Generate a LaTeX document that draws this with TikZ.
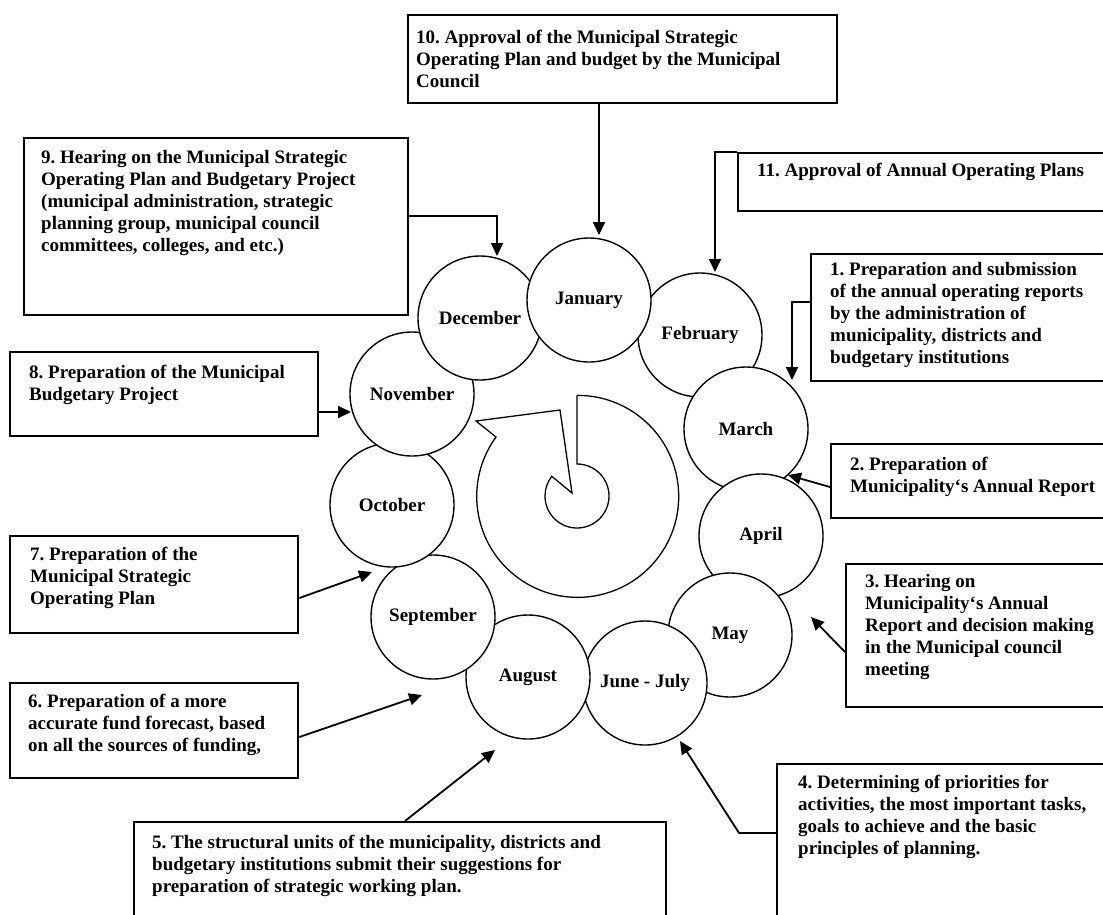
\documentclass[tikz,border=0pt]{standalone}
\usepackage{fontspec}
\setmainfont{Liberation Serif}
\usetikzlibrary{arrows.meta}
\begin{document}
\frenchspacing
\begin{tikzpicture}[x=1pt,y=-1pt,
  box/.style={draw, line width=2.4pt, rectangle, inner sep=0pt, anchor=north west},
  txt/.style={anchor=north west, inner sep=0pt, align=left, font=\fontsize{19}{22}\selectfont\bfseries\frenchspacing},
  month/.style={circle, draw, fill=white, line width=1.4pt, minimum size=124pt, inner sep=0pt, font=\fontsize{19}{22}\selectfont\bfseries},
  arr/.style={line width=1.8pt, -{Triangle[length=13pt,width=12pt]}},
  spiral/.style={line width=1.3pt, line join=miter}]
\useasboundingbox (0,0) rectangle (1103,914);

% boxes
\node[box, minimum width=429pt, minimum height=88pt] (b10) at (407,14) {};
\node[box, minimum width=384pt, minimum height=177pt] (b9) at (23,137) {};
\node[box, minimum width=369pt, minimum height=58pt] (b11) at (737,152) {};
\node[box, minimum width=296pt, minimum height=127pt] (b1) at (810,253) {};
\node[box, minimum width=308pt, minimum height=84pt] (b8) at (9,351) {};
\node[box, minimum width=276pt, minimum height=74pt] (b2) at (830,443) {};
\node[box, minimum width=261pt, minimum height=143pt] (b3) at (845,563) {};
\node[box, minimum width=288pt, minimum height=97pt] (b7) at (9,535) {};
\node[box, minimum width=288pt, minimum height=95pt] (b6) at (9,682) {};
\node[box, minimum width=532pt, minimum height=109pt] (b5) at (133,821) {};
\node[box, minimum width=330pt, minimum height=167pt] (b4) at (776,763) {};

% texts
\node[txt] (t10) at (416,27.6) {\strut 10. Approval of the Municipal Strategic\\Operating Plan and budget by the Municipal\\Council};
\node[txt] (t9) at (41,147.6) {\strut 9. Hearing on the Municipal Strategic\\Operating Plan and Budgetary Project\\(municipal administration, strategic\\planning group, municipal council\\committees, colleges, and etc.)};
\node[txt] (t11) at (757,160.6) {\strut 11. Approval of Annual Operating Plans};
\node[txt] (t1) at (830,259.6) {\strut 1. Preparation and submission\\of the annual operating reports\\by the administration of\\municipality, districts and\\budgetary institutions};
\node[txt] (t8) at (29,362.6) {\strut 8. Preparation of the Municipal\\Budgetary Project};
\node[txt] (t2) at (850,454.6) {\strut 2. Preparation of\\Municipality‘s Annual Report};
\node[txt] (t3) at (865,571.6) {\strut 3. Hearing on\\Municipality‘s Annual\\Report and decision making\\in the Municipal council\\meeting};
\node[txt] (t7) at (30,544.6) {\strut 7. Preparation of the\\Municipal Strategic\\Operating Plan};
\node[txt] (t6) at (28,691.6) {\strut 6. Preparation of a more\\accurate fund forecast, based\\on all the sources of funding,};
\node[txt] (t5) at (152,832.6) {\strut 5. The structural units of the municipality, districts and\\budgetary institutions submit their suggestions for\\preparation of strategic working plan.};
\node[txt] (t4) at (798,772.6) {\strut 4. Determining of priorities for\\activities, the most important tasks,\\goals to achieve and the basic\\principles of planning.};

% month circles (drawing order gives the overlaps)
\node[month] (feb) at (700,335) {February};
\node[month] (mar) at (746,429) {March};
\node[month] (apr) at (761,536) {April};
\node[month] (may) at (730,635) {May};
\node[month] (jj)  at (645,683) {June - July};
\node[month] (aug) at (528,677) {August};
\node[month] (sep) at (433,617) {September};
\node[month] (oct) at (392,505) {October};
\node[month] (nov) at (412,394) {November};
\node[month] (dec) at (480,318) {December};
\node[month] (jan) at (589,300) {January};

% central spiral arrow
\draw[spiral] (577,396) -- (577,464) arc[start angle=-90, end angle=218, radius=32]
  -- (572,493) -- (560,410) -- (476,421) -- (496,437)
  arc[start angle=-144, end angle=-450, radius=101] -- cycle;

% arrow end points
\coordinate (a10) at (599,235);
\coordinate (a9) at (497,256);
\coordinate (a11) at (715,272);
\coordinate (a1) at (792,380);
\coordinate (a2) at (788,475);
\coordinate (a3) at (811,617);
\coordinate (k4) at (739,833);
\coordinate (a4) at (680,741);
\coordinate (a5) at (495,750);
\coordinate (a6) at (422,695);
\coordinate (a7) at (372,572);
\coordinate (a8) at (351,412);

% connectors
\draw[arr] (b10.south -| a10) -- (a10);
\draw[arr] (b9.east |- 0,216) -| (a9);
\draw[arr] (b11.north west) -| (a11);
\draw[arr] (b1.west |- 0,302) -| (a1);
\draw[arr] (b2.west |- 0,487) -- (a2);
\draw[arr] (b3.west |- 0,652) -- (a3);
\draw[arr] (b4.west |- k4) -- (k4) -- (a4);
\draw[arr] (b5.north -| 405,0) -- (a5);
\draw[arr] (b6.east |- 0,737) -- (a6);
\draw[arr] (b7.east |- 0,598) -- (a7);
\draw[arr] (b8.east |- a8) -- (a8);
\end{tikzpicture}
\end{document}
